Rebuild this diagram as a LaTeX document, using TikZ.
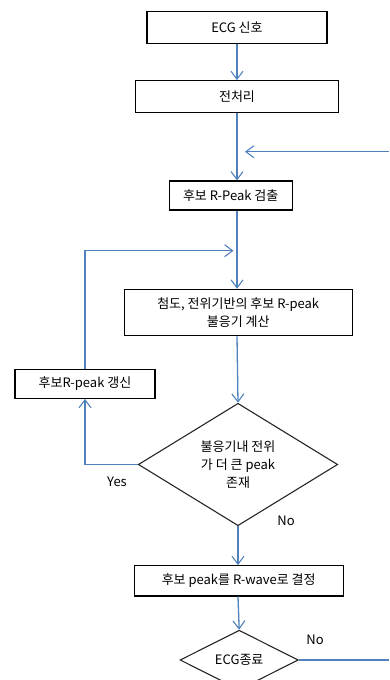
\documentclass[tikz,border=0pt]{standalone}
\usepackage{fontspec}
\setmainfont{Noto Sans CJK KR}
\usetikzlibrary{shapes.geometric,arrows.meta}
\definecolor{conn}{HTML}{4F81BD}
\begin{document}
\begin{tikzpicture}[x=1pt,y=-1pt,
  font=\fontsize{13pt}{18pt}\selectfont,
  box/.style={draw=black,line width=1.1pt,fill=white,inner sep=0pt,align=center},
  dia/.style={draw=black!85,line width=1.1pt,diamond,inner sep=0pt,align=center},
  conn/.style={draw=conn,line width=1.3pt},
  arr/.style={conn,-{Straight Barb[length=8pt,width=12pt,line width=1.1pt]}},
  lbl/.style={inner sep=0pt}]
\clip (0,0) rectangle (389,680);
\useasboundingbox (0,0) rectangle (389,680);
\node[box,minimum width=180pt,minimum height=31.6pt] (b1) at (237,27.5) {ECG 신호};
\node[box,minimum width=203.4pt,minimum height=31.6pt] (b2) at (237,96.5) {전처리};
\node[box,minimum width=123.3pt,minimum height=29pt] (b3) at (230.7,195.5) {후보 R-Peak 검출};
\node[box,minimum width=228.3pt,minimum height=46.4pt] (b4) at (238.2,312.5) {첨도, 전위기반의 후보 R-peak\\불응기 계산};
\node[box,minimum width=140pt,minimum height=29.3pt] (b5) at (85,383.7) {후보R-peak 갱신};
\node[dia,minimum width=199.4pt,minimum height=112.4pt] (d1) at (238,464.5) {불응기내 전위\\가 더 큰 peak\\존재};
\node[box,minimum width=209.3pt,minimum height=30.3pt] (b6) at (238.7,580.8) {후보 peak를 R-wave로 결정};
\node[dia,minimum width=118.3pt,minimum height=44pt] (d2) at (239.2,660) {ECG종료};
\node[lbl] (yes) at (117,482) {Yes};
\node[lbl] (no1) at (286,521) {No};
\node[lbl] (no2) at (315,640) {No};
\coordinate (inR) at (389,151.7);
\coordinate (inTip) at (245,151.7);
\coordinate (loopTip) at (233.5,250.7);
\coordinate (outR) at (389,660);
\draw[arr] (b1.south) -- (b2.north);
\draw[arr] (b2.south) -- (b2.south |- b3.north);
\draw[arr] (inR) -- (inTip);
\draw[arr] (b2.south |- b3.south) -- (b2.south |- b4.north);
\draw[arr] (b5.north) |- (loopTip);
\draw[arr] (b2.south |- b4.south) -- (d1.north);
\draw[arr] (d1.west) -| (b5.south);
\draw[arr] (d1.south) -- (d1.south |- b6.north);
\draw[arr] (d1.south |- b6.south) -- (d2.north);
\draw[conn] (d2.east) -- (outR);
\end{tikzpicture}
\end{document}
